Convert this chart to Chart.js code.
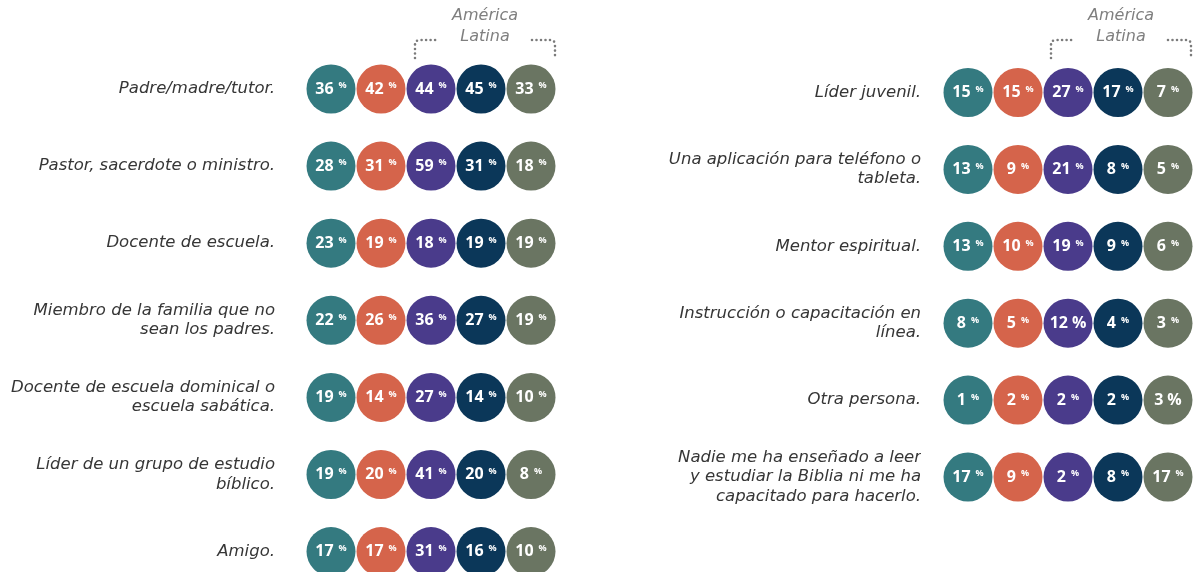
<!DOCTYPE html>
<html><head><meta charset="utf-8">
<script src="https://cdn.jsdelivr.net/npm/chart.js@4"></script>
<style>
html,body{margin:0;padding:0;background:#fff;width:1198px;height:572px;overflow:hidden}
#l{position:absolute;left:0;top:0}
#r{position:absolute;left:600px;top:0}
</style>
</head><body>
<canvas id="l" width="600" height="572"></canvas>
<canvas id="r" width="598" height="572"></canvas>
<script>
// ---- data ----
const seriesNames = ['Serie 1','Serie 2','Serie 3','Serie 4','Serie 5'];
const seriesColors = ['#347a80','#d5644b','#4a3b8b','#0b3759','#6a7562'];
const headerLines = ['América','Latina'];

const leftCategories = [
  'Padre/madre/tutor.',
  'Pastor, sacerdote o ministro.',
  'Docente de escuela.',
  ['Miembro de la familia que no','sean los padres.'],
  ['Docente de escuela dominical o','escuela sabática.'],
  ['Líder de un grupo de estudio','bíblico.'],
  'Amigo.'
];
const leftS1 = [36,28,23,22,19,19,17];
const leftS2 = [42,31,19,26,14,20,17];
const leftS3 = [44,59,18,36,27,41,31];
const leftS4 = [45,31,19,27,14,20,16];
const leftS5 = [33,18,19,19,10,8,10];

const rightCategories = [
  'Líder juvenil.',
  ['Una aplicación para teléfono o','tableta.'],
  'Mentor espiritual.',
  ['Instrucción o capacitación en','línea.'],
  'Otra persona.',
  ['Nadie me ha enseñado a leer','y estudiar la Biblia ni me ha','capacitado para hacerlo.']
];
const rightS1 = [15,13,13,8,1,17];
const rightS2 = [15,9,10,5,2,9];
const rightS3 = [27,21,19,12,2,2];
const rightS4 = [17,8,9,4,2,8];
const rightS5 = [7,5,6,3,3,17];
// cells whose "%" is printed full size: [series, row]
const rightFullPct = [[2,3],[4,4]];

// ---- plugins ----
const valuePlugin = {
  id:'vals',
  afterDatasetsDraw(chart, args, opts){
    const ctx = chart.ctx;
    const full = opts.full || [];
    chart.data.datasets.forEach((ds, di)=>{
      const meta = chart.getDatasetMeta(di);
      meta.data.forEach((pt, i)=>{
        const num = String(ds.data[i].v);
        const isFull = full.some(f=>f[0]===di && f[1]===i);
        ctx.save();
        ctx.fillStyle = '#ffffff';
        ctx.textBaseline = 'alphabetic';
        ctx.textAlign = 'left';
        const numFont = '700 16px "Open Sans"';
        const pctFont = isFull ? '700 16px "Open Sans"' : '700 9px "Open Sans"';
        ctx.font = numFont;
        const wn = ctx.measureText(num).width;
        ctx.font = pctFont;
        const wp = ctx.measureText('%').width;
        const gap = isFull ? 4 : 5;
        const x0 = pt.x - (wn + gap + wp)/2;
        const base = pt.y + 4.6;
        ctx.font = numFont;
        ctx.fillText(num, x0, base);
        ctx.font = pctFont;
        ctx.fillText('%', x0 + wn + gap, isFull ? base : pt.y - 0.6);
        ctx.restore();
      });
    });
  }
};

const headerPlugin = {
  id:'hdr',
  afterDraw(chart, args, o){
    const ctx = chart.ctx;
    const xs = chart.scales.x;
    const xL = xs.getPixelForValue(o.from), xR = xs.getPixelForValue(o.to);
    const xLe = xs.getPixelForValue(o.fromEnd), xRs = xs.getPixelForValue(o.toStart);
    const top = 40, bot = 58, r = 5;
    ctx.save();
    ctx.strokeStyle = '#7b7b7b';
    ctx.lineWidth = 2.6;
    ctx.lineCap = 'round';
    ctx.setLineDash([0, 4.5]);
    ctx.beginPath();
    ctx.moveTo(xL, bot); ctx.lineTo(xL, top + r);
    ctx.quadraticCurveTo(xL, top, xL + r, top);
    ctx.lineTo(xLe, top);
    ctx.stroke();
    ctx.beginPath();
    ctx.moveTo(xRs, top); ctx.lineTo(xR - r, top);
    ctx.quadraticCurveTo(xR, top, xR, top + r);
    ctx.lineTo(xR, bot);
    ctx.stroke();
    ctx.setLineDash([]);
    ctx.fillStyle = '#7f7f7f';
    ctx.font = 'italic 16px "DejaVu Sans"';
    ctx.textAlign = 'center';
    ctx.textBaseline = 'middle';
    const cx = (xL + xR)/2;
    ctx.fillText(headerLines[0], cx, 16);
    ctx.fillText(headerLines[1], cx, 37);
    ctx.restore();
  }
};

function buildDatasets(cols){
  return cols.map((vals, c)=>({
    label: seriesNames[c],
    data: vals.map((v, i)=>({x:c, y:i, v:v})),
    backgroundColor: seriesColors[c],
    pointBackgroundColor: seriesColors[c],
    pointBorderWidth: 0,
    pointRadius: 24.5,
    pointHoverRadius: 24.5,
    clip: false
  }));
}

function makeChart(id, cats, cols, cfg){
  return new Chart(document.getElementById(id), {
    type:'scatter',
    data:{ datasets: buildDatasets(cols) },
    plugins:[valuePlugin, headerPlugin],
    options:{
      responsive:false,
      animation:false,
      events:[],
      layout:{ autoPadding:false, padding:{ top:cfg.top, bottom:cfg.bottom, right:cfg.right, left:0 } },
      plugins:{
        legend:{display:false},
        tooltip:{enabled:false},
        vals:{ full: cfg.full || [] },
        hdr:{ from:cfg.from, to:cfg.to, fromEnd:cfg.fromEnd, toStart:cfg.toStart }
      },
      scales:{
        x:{ type:'linear', min:cfg.xMin, max:4.5, display:false },
        y:{
          type:'linear', reverse:true, min:cfg.yMin, max:cfg.yMax,
          grid:{display:false, drawTicks:false},
          border:{display:false},
          afterFit(s){ s.width = cfg.axisWidth; },
          afterBuildTicks(s){ s.ticks = cats.map((c,i)=>({value:i})); },
          ticks:{
            autoSkip:false,
            padding: 0,
            color:'#363636',
            font:{ family:'"DejaVu Sans"', style:'italic', size:16.5, lineHeight:1.19 },
            callback:(v)=>cats[v]
          }
        }
      }
    }
  });
}

makeChart('l', leftCategories, [leftS1,leftS2,leftS3,leftS4,leftS5],
  { top:50.45, bottom:12.7, right:44, axisWidth:275, xMin:-1.12, yMin:-0.5, yMax:6.1,
    from:1.68, to:4.48, fromEnd:2.14, toStart:4.02 });
makeChart('r', rightCategories, [rightS1,rightS2,rightS3,rightS4,rightS5],
  { top:54.05, bottom:56.55, right:5, axisWidth:321, xMin:-0.94, yMin:-0.5, yMax:5.5, full:rightFullPct,
    from:1.66, to:4.46, fromEnd:2.14, toStart:4.0 });
</script>
</body></html>
